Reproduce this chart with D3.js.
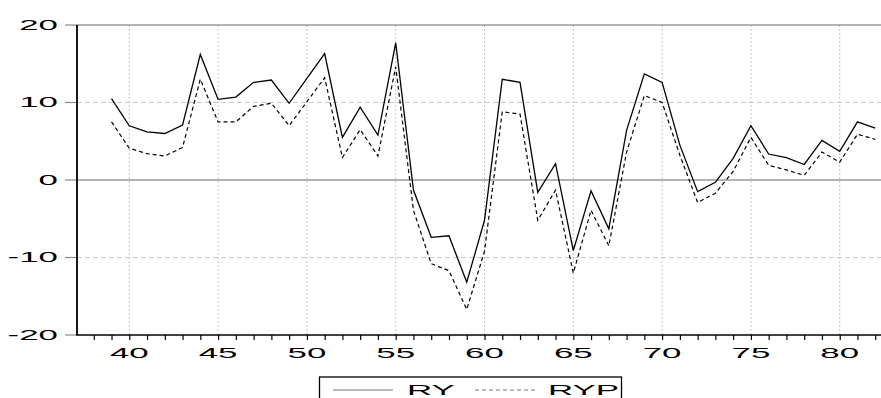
<!DOCTYPE html>
<html>
<head>
<meta charset="utf-8">
<script src="https://cdn.jsdelivr.net/npm/d3@7"></script>
<style>
  body { margin: 0; background: #fff; }
  svg { display: block; }
  text { font-family: "Liberation Sans", Arial, sans-serif; font-size: 15.5px; fill: #000; }
</style>
</head>
<body>
<div id="chart"></div>
<script>
// years on the x axis (two-digit)
const years = [39, 40, 41, 42, 43, 44, 45, 46, 47, 48, 49, 50, 51, 52, 53, 54, 55, 56, 57, 58, 59, 60,
               61, 62, 63, 64, 65, 66, 67, 68, 69, 70, 71, 72, 73, 74, 75, 76, 77, 78, 79, 80, 81, 82];

const ry = [10.5, 7.0, 6.2, 6.0, 7.1, 16.2, 10.4, 10.7, 12.6, 12.9, 9.9, 13.1, 16.3, 5.5, 9.4, 5.8, 17.7, -1.3,
            -7.4, -7.2, -13.2, -5.2, 13.0, 12.6, -1.6, 2.1, -9.1, -1.4, -6.3, 6.4, 13.7, 12.6, 4.5, -1.5, -0.3,
            2.8, 7.0, 3.35, 2.9, 2.0, 5.1, 3.7, 7.5, 6.7];

const ryp = [7.5, 4.1, 3.4, 3.1, 4.2, 13.0, 7.5, 7.5, 9.5, 9.9, 7.0, 10.1, 13.2, 2.9, 6.5, 3.1, 14.6, -3.9,
             -10.8, -11.7, -16.7, -9.2, 8.8, 8.5, -5.2, -1.3, -12.0, -3.9, -8.5, 3.6, 10.9, 10.0, 3.2, -2.9, -1.7,
             1.1, 5.5, 1.9, 1.3, 0.6, 3.6, 2.3, 5.9, 5.25];

const xMajor = [40, 45, 50, 55, 60, 65, 70, 75, 80];
const xMinor = [38, 39, 40, 41, 42, 43, 44, 45, 46, 47, 48, 49, 50, 51, 52, 53, 54, 55, 56, 57, 58, 59, 60,
                61, 62, 63, 64, 65, 66, 67, 68, 69, 70, 71, 72, 73, 74, 75, 76, 77, 78, 79, 80, 81, 82];
const yTicks = [-20, -10, 0, 10, 20];
const legendLabels = ['RY', 'RYP'];

const W = 881, H = 398;
const plot = {left: 77, top: 25, bottom: 335};
const stretch = 2.25; // the reference uses a very wide font

const svg = d3.select('#chart').append('svg')
    .attr('width', W)
    .attr('height', H);

const x = d3.scaleLinear().domain([37, 83]).range([76, 893]);
const y = d3.scaleLinear().domain([-20, 20]).range([plot.bottom, plot.top]);

// grid: vertical dotted
svg.append('g')
    .selectAll('line')
    .data(xMajor)
    .enter()
    .append('line')
    .attr('x1', d => x(d)).attr('x2', d => x(d))
    .attr('y1', y(20)).attr('y2', y(-20))
    .attr('stroke', '#c4c4c4')
    .attr('stroke-width', 1)
    .attr('stroke-dasharray', '2,2');

// grid: horizontal dashed at +-10
svg.append('g')
    .selectAll('line')
    .data([-10, 10])
    .enter()
    .append('line')
    .attr('x1', plot.left).attr('x2', W)
    .attr('y1', d => y(d)).attr('y2', d => y(d))
    .attr('stroke', '#c8c8c8')
    .attr('stroke-width', 1)
    .attr('stroke-dasharray', '5,3');

// zero line
svg.append('line')
    .attr('x1', plot.left).attr('x2', W)
    .attr('y1', y(0)).attr('y2', y(0))
    .attr('stroke', '#9a9a9a')
    .attr('stroke-width', 1.6);

// top frame line
svg.append('line')
    .attr('x1', plot.left).attr('x2', W)
    .attr('y1', y(20)).attr('y2', y(20))
    .attr('stroke', '#6a6a6a')
    .attr('stroke-width', 1.2);

// y ticks (grey, outward)
svg.append('g')
    .selectAll('line')
    .data(yTicks)
    .enter()
    .append('line')
    .attr('x1', plot.left - 12).attr('x2', plot.left)
    .attr('y1', d => y(d)).attr('y2', d => y(d))
    .attr('stroke', '#8a8a8a')
    .attr('stroke-width', 1.2);

// y labels
svg.append('g')
    .selectAll('text')
    .data(yTicks)
    .enter()
    .append('text')
    .attr('text-anchor', 'end')
    .attr('transform', d => `translate(${plot.left - 19},${y(d) + 4.5}) scale(${stretch},1)`)
    .text(d => d);

// x axis
const xAxis = d3.axisBottom(x)
    .tickValues(xMinor)
    .tickSize(5)
    .tickSizeOuter(0)
    .tickFormat('');

const gx = svg.append('g')
    .attr('transform', `translate(0,${plot.bottom})`)
    .call(xAxis);
gx.select('.domain').remove();
gx.selectAll('.tick line').attr('stroke', '#000').attr('stroke-width', 1.2);

svg.append('line')
    .attr('x1', plot.left - 1).attr('x2', W)
    .attr('y1', plot.bottom).attr('y2', plot.bottom)
    .attr('stroke', '#000')
    .attr('stroke-width', 1.5);

svg.append('g')
    .selectAll('text')
    .data(xMajor)
    .enter()
    .append('text')
    .attr('text-anchor', 'middle')
    .attr('transform', d => `translate(${x(d)},${plot.bottom + 23}) scale(${stretch},1)`)
    .text(d => d);

// left axis
svg.append('line')
    .attr('x1', plot.left).attr('x2', plot.left)
    .attr('y1', plot.top).attr('y2', plot.bottom)
    .attr('stroke', '#000')
    .attr('stroke-width', 1.8);

// series
const line = d3.line()
    .x((d, i) => x(years[i]))
    .y(d => y(d));

svg.append('path')
    .datum(ryp)
    .attr('d', line)
    .attr('fill', 'none')
    .attr('stroke', '#000')
    .attr('stroke-width', 1.2)
    .attr('stroke-dasharray', '4,3');

svg.append('path')
    .datum(ry)
    .attr('d', line)
    .attr('fill', 'none')
    .attr('stroke', '#000')
    .attr('stroke-width', 1.3);

// legend (cut off by the bottom edge as in the reference)
const legend = svg.append('g');
legend.append('rect')
    .attr('x', 319.5).attr('y', 377)
    .attr('width', 302).attr('height', 40)
    .attr('fill', '#fff')
    .attr('stroke', '#000')
    .attr('stroke-width', 1.3);

legend.append('line')
    .attr('x1', 333).attr('x2', 393)
    .attr('y1', 390).attr('y2', 390)
    .attr('stroke', '#777')
    .attr('stroke-width', 1.2);

legend.append('line')
    .attr('x1', 475).attr('x2', 537)
    .attr('y1', 390).attr('y2', 390)
    .attr('stroke', '#777')
    .attr('stroke-width', 1.2)
    .attr('stroke-dasharray', '4,3');

legend.selectAll('text.lab')
    .data(legendLabels)
    .enter()
    .append('text')
    .attr('class', 'lab')
    .attr('transform', (d, i) => `translate(${i === 0 ? 407 : 548},394.5) scale(${stretch},1)`)
    .text(d => d);
</script>
</body>
</html>
